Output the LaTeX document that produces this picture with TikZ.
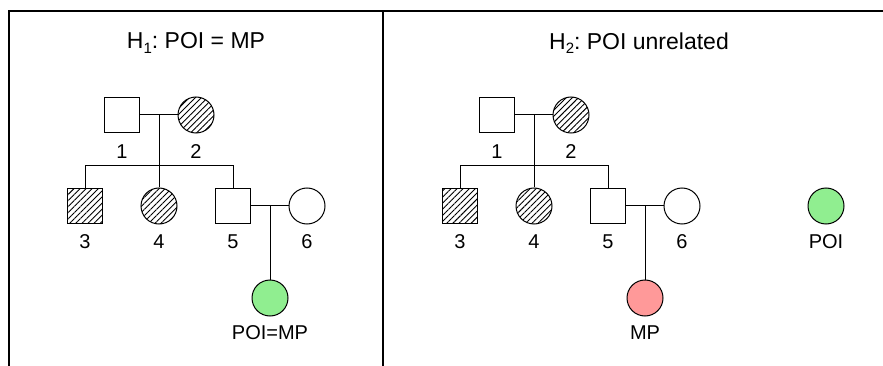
\documentclass[tikz,border=0pt]{standalone}
\usepackage{fontspec}
\setmainfont{Liberation Sans}
\usetikzlibrary{patterns.meta}
\frenchspacing
\definecolor{poigreen}{HTML}{90EE90}
\definecolor{mppink}{HTML}{FF9999}
\tikzset{
  male/.style={draw, line width=1pt, minimum size=35pt, inner sep=0pt, shape=rectangle},
  female/.style={draw, line width=1pt, minimum size=36pt, inner sep=0pt, shape=circle},
  hatch/.style={pattern={Lines[angle=45,distance=4.3pt,line width=0.9pt]}},
  link/.style={line width=1pt},
  frame/.style={line width=1.4pt},
  lbl/.style={font=\fontsize{20}{23}\selectfont, inner sep=0pt},
  ttl/.style={font=\fontsize{23}{27}\selectfont\frenchspacing, inner sep=0pt},
}
\newcommand{\subsc}[1]{\raisebox{-0.35ex}{\fontsize{15}{15}\selectfont #1}}
\begin{document}
\begin{tikzpicture}[x=1pt,y=-1pt]
\useasboundingbox (0,0) rectangle (883,366);
% frame
\coordinate (fbl) at (9,366);
\coordinate (ftl) at (9,11);
\coordinate (ftr) at (883,11);
\coordinate (dtop) at (383,11);
\coordinate (dbot) at (383,366);
\draw[frame] (fbl) -- (ftl) -- (ftr);
\draw[frame] (dtop) -- (dbot);
% titles
\node[ttl] (t1) at (196,43) {H\subsc{1}: POI = MP};
\node[ttl] (t2) at (639,43) {H\subsc{2}: POI unrelated};
% panels
\foreach \p/\dx in {a/0, b/375} {
  \begin{scope}[xshift=\dx]
    \node[male] (\p1) at (122,115) {};
    \node[female, hatch] (\p2) at (196,115) {};
    \node[male, hatch] (\p3) at (85,206) {};
    \node[female, hatch] (\p4) at (159,206) {};
    \node[male] (\p5) at (233,206) {};
    \node[female] (\p6) at (307,206) {};
    \coordinate (\p m1) at (159,115);
    \coordinate (\p s) at (159,166);
    \coordinate (\p sl) at (85,166);
    \coordinate (\p sr) at (233,166);
    \coordinate (\p m2) at (270,206);
    \draw[link] (\p1.east) -- (\p2.west);
    \draw[link] (\p m1) -- (\p s);
    \draw[link] (\p3.north) -- (\p sl) -- (\p sr) -- (\p5.north);
    \draw[link] (\p s) -- (\p4.north);
    \draw[link] (\p5.east) -- (\p6.west);
    \node[lbl] (\p l1) at (122,152) {1};
    \node[lbl] (\p l2) at (196,152) {2};
    \node[lbl] (\p l3) at (85,242) {3};
    \node[lbl] (\p l4) at (159,242) {4};
    \node[lbl] (\p l5) at (233,242) {5};
    \node[lbl] (\p l6) at (307,242) {6};
  \end{scope}
}
\node[female, fill=poigreen] (a7) at (270,298) {};
\draw[link] (am2) -- (a7.north);
\node[lbl] (al7) at (270,333) {POI=MP};
\node[female, fill=mppink] (b7) at (645,298) {};
\draw[link] (bm2) -- (b7.north);
\node[lbl] (bl7) at (645,333) {MP};
\node[female, fill=poigreen] (poi) at (826,206) {};
\node[lbl] (poil) at (826,242) {POI};
\end{tikzpicture}
\end{document}
